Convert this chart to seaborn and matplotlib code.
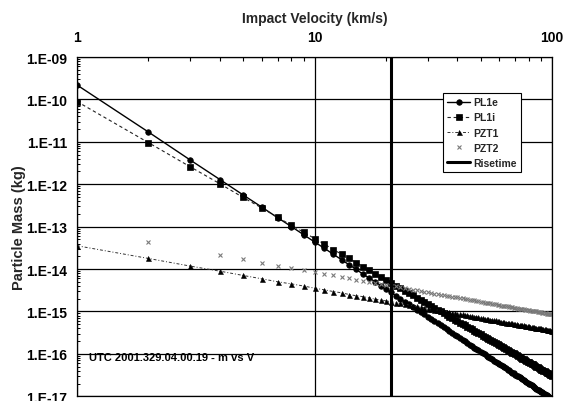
import numpy as np
import pandas as pd
import matplotlib
matplotlib.use("Agg")
import matplotlib.pyplot as plt
import seaborn as sns
from matplotlib.ticker import FixedLocator, LogLocator, NullFormatter, FixedFormatter

# ---------------- data ----------------
velocity = [1, 2, 3, 4, 5, 6, 7, 8, 9, 10,
            11, 12, 13, 14, 15, 16, 17, 18, 19, 20,
            21, 22, 23, 24, 25, 26, 27, 28, 29, 30,
            31, 32, 33, 34, 35, 36, 37, 38, 39, 40,
            41, 42, 43, 44, 45, 46, 47, 48, 49, 50,
            51, 52, 53, 54, 55, 56, 57, 58, 59, 60,
            61, 62, 63, 64, 65, 66, 67, 68, 69, 70,
            71, 72, 73, 74, 75, 76, 77, 78, 79, 80,
            81, 82, 83, 84, 85, 86, 87, 88, 89, 90,
            91, 92, 93, 94, 95, 96, 97, 98, 99, 100]

# log10 of particle mass (kg)
pl1e_log = [-9.66, -10.77, -11.43, -11.89, -12.25, -12.54, -12.79, -13.00, -13.19, -13.36,
            -13.51, -13.65, -13.78, -13.90, -14.01, -14.12, -14.21, -14.30, -14.39, -14.47,
            -14.55, -14.63, -14.70, -14.77, -14.83, -14.90, -14.96, -15.01, -15.07, -15.13,
            -15.18, -15.23, -15.28, -15.33, -15.37, -15.42, -15.46, -15.51, -15.55, -15.59,
            -15.63, -15.67, -15.70, -15.74, -15.78, -15.81, -15.85, -15.88, -15.91, -15.95,
            -15.98, -16.01, -16.04, -16.07, -16.10, -16.13, -16.16, -16.18, -16.21, -16.24,
            -16.27, -16.29, -16.32, -16.34, -16.37, -16.39, -16.42, -16.44, -16.46, -16.49,
            -16.51, -16.53, -16.55, -16.58, -16.60, -16.62, -16.64, -16.66, -16.68, -16.70,
            -16.72, -16.74, -16.76, -16.78, -16.80, -16.82, -16.84, -16.85, -16.87, -16.89,
            -16.91, -16.93, -16.94, -16.96, -16.98, -16.99, -17.01, -17.03, -17.04, -17.06]

pl1i_log = [-10.05, -11.02, -11.59, -11.99, -12.31, -12.56, -12.78, -12.97, -13.13, -13.28,
            -13.41, -13.54, -13.65, -13.75, -13.85, -13.94, -14.03, -14.11, -14.18, -14.25,
            -14.32, -14.39, -14.45, -14.51, -14.57, -14.62, -14.68, -14.73, -14.78, -14.82,
            -14.87, -14.91, -14.96, -15.00, -15.04, -15.08, -15.12, -15.16, -15.19, -15.23,
            -15.26, -15.30, -15.33, -15.36, -15.39, -15.42, -15.45, -15.48, -15.51, -15.54,
            -15.57, -15.60, -15.62, -15.65, -15.68, -15.70, -15.73, -15.75, -15.77, -15.80,
            -15.82, -15.84, -15.87, -15.89, -15.91, -15.93, -15.95, -15.97, -15.99, -16.01,
            -16.03, -16.05, -16.07, -16.09, -16.11, -16.13, -16.15, -16.17, -16.18, -16.20,
            -16.22, -16.24, -16.25, -16.27, -16.29, -16.30, -16.32, -16.34, -16.35, -16.37,
            -16.38, -16.40, -16.41, -16.43, -16.44, -16.46, -16.47, -16.49, -16.50, -16.52]

pzt1_log = [-13.45, -13.75, -13.93, -14.05, -14.15, -14.23, -14.30, -14.35, -14.40, -14.45,
            -14.49, -14.53, -14.56, -14.60, -14.63, -14.65, -14.68, -14.71, -14.73, -14.75,
            -14.77, -14.79, -14.81, -14.83, -14.85, -14.87, -14.88, -14.90, -14.91, -14.93,
            -14.94, -14.96, -14.97, -14.98, -14.99, -15.01, -15.02, -15.03, -15.04, -15.05,
            -15.06, -15.07, -15.08, -15.09, -15.10, -15.11, -15.12, -15.13, -15.14, -15.15,
            -15.16, -15.17, -15.17, -15.18, -15.19, -15.20, -15.21, -15.21, -15.22, -15.23,
            -15.24, -15.24, -15.25, -15.26, -15.26, -15.27, -15.28, -15.28, -15.29, -15.30,
            -15.30, -15.31, -15.31, -15.32, -15.33, -15.33, -15.34, -15.34, -15.35, -15.35,
            -15.36, -15.36, -15.37, -15.37, -15.38, -15.38, -15.39, -15.39, -15.40, -15.40,
            -15.41, -15.41, -15.42, -15.42, -15.43, -15.43, -15.44, -15.44, -15.45, -15.45]

pzt2_log = [None, -13.37, None, -13.67, -13.77, -13.85, -13.92, -13.97, -14.02, -14.07,
            -14.11, -14.15, -14.18, -14.22, -14.25, -14.27, -14.30, -14.33, -14.35, -14.37,
            -14.39, -14.41, -14.43, -14.45, -14.47, -14.49, -14.50, -14.52, -14.53, -14.55,
            -14.56, -14.58, -14.59, -14.60, -14.61, -14.63, -14.64, -14.65, -14.66, -14.67,
            -14.68, -14.69, -14.70, -14.71, -14.72, -14.73, -14.74, -14.75, -14.76, -14.77,
            -14.78, -14.79, -14.79, -14.80, -14.81, -14.82, -14.83, -14.83, -14.84, -14.85,
            -14.86, -14.86, -14.87, -14.88, -14.88, -14.89, -14.90, -14.90, -14.91, -14.92,
            -14.92, -14.93, -14.93, -14.94, -14.95, -14.95, -14.96, -14.96, -14.97, -14.97,
            -14.98, -14.98, -14.99, -14.99, -15.00, -15.00, -15.01, -15.01, -15.02, -15.02,
            -15.03, -15.03, -15.04, -15.04, -15.05, -15.05, -15.06, -15.06, -15.07, -15.07]

risetime_velocity = [21, 21]
risetime_mass = [1e-17, 1e-9]

x_ticks = [1, 10, 100]
x_tick_labels = ["1", "10", "100"]
y_ticks = [1e-9, 1e-10, 1e-11, 1e-12, 1e-13, 1e-14, 1e-15, 1e-16, 1e-17]
y_tick_labels = ["1.E-09", "1.E-10", "1.E-11", "1.E-12", "1.E-13",
                 "1.E-14", "1.E-15", "1.E-16", "1.E-17"]

df = pd.DataFrame({
    "v": velocity,
    "PL1e": 10 ** np.array(pl1e_log, dtype=float),
    "PL1i": 10 ** np.array(pl1i_log, dtype=float),
    "PZT1": 10 ** np.array(pzt1_log, dtype=float),
    "PZT2": 10 ** np.array(pzt2_log, dtype=float),
})
pzt2_df = df.dropna(subset=["PZT2"])
rise = pd.DataFrame({"v": risetime_velocity, "m": risetime_mass})

# ---------------- styling ----------------
sns.set_theme(style="ticks")
plt.rcParams["font.family"] = ["Liberation Sans", "DejaVu Sans"]
plt.rcParams["font.weight"] = "bold"

fig, ax = plt.subplots(figsize=(5.64, 4.02), dpi=100)
fig.subplots_adjust(left=77 / 564, right=552 / 564, top=1 - 58 / 402, bottom=1 - 397.3 / 402)

ax.set_xscale("log")
ax.set_yscale("log")

sns.lineplot(data=df, x="v", y="PL1e", ax=ax, estimator=None, sort=False,
             color="black", lw=1.0, marker="o", ms=4.0, mec="black", mew=0.5,
             label="PL1e", legend=False)
sns.lineplot(data=df, x="v", y="PL1i", ax=ax, estimator=None, sort=False,
             color="#222222", lw=0.8, ls=(0, (3, 2.5)), marker="s", ms=4.0,
             mec="black", mfc="black", mew=0.5, label="PL1i", legend=False)
sns.lineplot(data=df, x="v", y="PZT1", ax=ax, estimator=None, sort=False,
             color="#333333", lw=0.7, ls=(0, (3, 2, 1, 2)), marker="^", ms=3.6,
             mec="black", mfc="black", mew=0.4, label="PZT1", legend=False)
sns.lineplot(data=pzt2_df, x="v", y="PZT2", ax=ax, estimator=None, sort=False,
             color="#7a7a7a", ls="none", marker="x", ms=3.0, mew=0.8,
             mec="#7a7a7a", mfc="#7a7a7a", label="PZT2", legend=False)
sns.lineplot(data=rise, x="v", y="m", ax=ax, estimator=None, sort=False,
             color="black", lw=2.2, label="Risetime", legend=False)

ax.set_xlim(1, 100)
ax.set_ylim(1e-17, 1e-9)

# x axis on top
ax.xaxis.set_ticks_position("top")
ax.xaxis.set_label_position("top")
ax.xaxis.set_major_locator(FixedLocator(x_ticks))
ax.xaxis.set_major_formatter(FixedFormatter(x_tick_labels))
ax.xaxis.set_minor_locator(LogLocator(base=10, subs=range(2, 10)))
ax.xaxis.set_minor_formatter(NullFormatter())
ax.yaxis.set_major_locator(FixedLocator(y_ticks))
ax.yaxis.set_major_formatter(FixedFormatter(y_tick_labels))
ax.yaxis.set_minor_locator(LogLocator(base=10, subs=range(2, 10), numticks=20))
ax.yaxis.set_minor_formatter(NullFormatter())

ax.tick_params(axis="x", which="both", top=True, bottom=False, direction="in",
               labelsize=10, pad=9, colors="black")
ax.tick_params(axis="x", which="major", length=0)
ax.tick_params(axis="x", which="minor", length=3, width=0.8)
ax.tick_params(axis="y", which="both", left=True, right=False, direction="in",
               labelsize=10, pad=7, colors="black")
ax.tick_params(axis="y", which="major", length=0)
ax.tick_params(axis="y", which="minor", length=2.5, width=0.7)
for lab in ax.get_xticklabels() + ax.get_yticklabels():
    lab.set_fontweight("bold")

ax.grid(True, which="major", axis="both", color="black", lw=0.9)
ax.set_axisbelow(True)
for sp in ax.spines.values():
    sp.set_visible(True)
    sp.set_color("black")
    sp.set_linewidth(0.9)

ax.set_xlabel("Impact Velocity (km/s)", fontsize=10, fontweight="bold", labelpad=6)
ax.set_ylabel("Particle Mass (kg)", fontsize=10.5, fontweight="bold", labelpad=0.5)

ax.text(0.025, 0.116, "UTC 2001.329.04.00.19 - m vs V", transform=ax.transAxes,
        fontsize=8, fontweight="bold", va="center", ha="left", color="black")

handles, labels = ax.get_legend_handles_labels()
order = ["PL1e", "PL1i", "PZT1", "PZT2", "Risetime"]
hmap = dict(zip(labels, handles))
leg = ax.legend([hmap[k] for k in order], order,
                loc="upper left", bbox_to_anchor=(443 / 564, 1 - 94 / 402),
                bbox_transform=fig.transFigure, borderaxespad=0,
                frameon=True, fancybox=False, framealpha=1, edgecolor="black",
                prop={"size": 7.5, "weight": "bold"}, handlelength=2.2,
                handletextpad=0.3, labelspacing=0.5, borderpad=0.4)
leg.get_frame().set_linewidth(0.8)

fig.savefig("out.png", dpi=100)
